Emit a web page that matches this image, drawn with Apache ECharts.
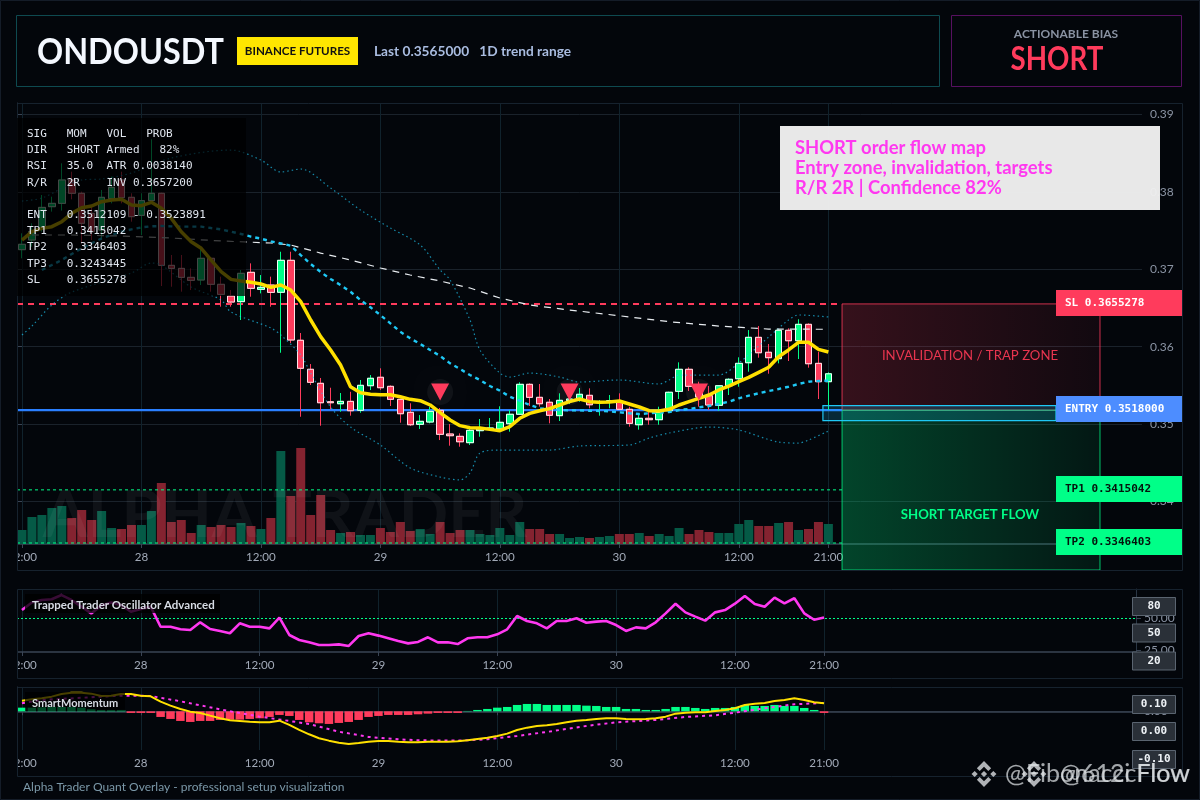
<!DOCTYPE html>
<html><head><meta charset="utf-8"><style>html,body{margin:0;padding:0;background:#02050a}#c{width:1200px;height:800px}</style>
<script src="https://cdn.jsdelivr.net/npm/echarts@6/dist/echarts.min.js"></script></head><body><div id="c"></div>
<script>
const tickLabels={0:'12:00',12:'28',24:'12:00',36:'29',48:'12:00',60:'30',72:'12:00',81:'21:00'};
const slotCount=113;
const categories=[];for(let k=0;k<slotCount;k++)categories.push('h'+k);
const opens=[.37254,.37378,.37529,.37809,.37852,.38154,.37982,.37723,.37508,.37913,
.38154,.37930,.37697,.37887,.37982,.37051,.37012,.36896,.36862,.37142,
.36806,.36655,.36582,.36961,.36741,.36797,.36703,.37116,.36083,.35708,
.35527,.35289,.35263,.35294,.35178,.35496,.35605,.35488,.35320,.35152,
.34997,.35027,.35178,.34872,.34842,.34760,.34915,.34930,.34937,.35005,
.35127,.35514,.35346,.35282,.35109,.35305,.35307,.35372,.35276,.35285,
.35289,.35191,.34992,.35075,.35057,.35173,.35423,.35708,.35479,.35367,
.35243,.35496,.35586,.35793,.36121,.35928,.35845,.36212,.36077,.36289,
.35785,.35548];
const closes=[.37323,.37486,.37800,.37852,.38154,.37982,.37594,.37486,.37930,.38059,
.37925,.37680,.37887,.37982,.37051,.37012,.36896,.36857,.37142,.36806,
.36676,.36577,.36948,.36754,.36767,.36702,.37116,.36087,.35721,.35540,
.35276,.35276,.35294,.35173,.35501,.35592,.35470,.35320,.35134,.34992,
.35036,.35165,.34868,.34850,.34772,.34920,.34937,.34950,.35023,.35127,
.35514,.35346,.35263,.35114,.35307,.35324,.35385,.35250,.35289,.35302,
.35191,.35010,.35075,.35057,.35152,.35411,.35708,.35488,.35350,.35247,
.35496,.35579,.35785,.36121,.35922,.35858,.36212,.36077,.36289,.35780,
.35548,.35650];
const lows=[.37142,.37292,.37486,.37745,.37758,.37904,.37335,.37378,.37378,.37852,
.37852,.37615,.37443,.37852,.36784,.36775,.36711,.36732,.36797,.36711,
.36517,.36517,.36345,.36646,.36689,.36517,.35922,.36048,.35095,.35505,
.34979,.35191,.35160,.35109,.35147,.35440,.35440,.35234,.35018,.34975,
.34937,.35010,.34794,.34721,.34708,.34730,.34837,.34924,.34930,.34902,
.35118,.35234,.35225,.35010,.35040,.35260,.35289,.35204,.35109,.35204,
.35182,.34966,.34928,.34992,.34992,.35160,.35324,.35428,.35225,.35182,
.35173,.35376,.35483,.35677,.35858,.35651,.35785,.35815,.35841,.35729,
.35324,.35182];
const highs=[.37465,.37594,.37960,.37938,.38369,.38261,.38003,.37809,.38025,.38197,
.38261,.37982,.37982,.38679,.37990,.37185,.37185,.37012,.37271,.37150,
.36905,.36732,.36991,.37077,.36926,.36905,.37227,.37227,.36177,.35776,
.35596,.35470,.35402,.35418,.35570,.35634,.35721,.35500,.35330,.35269,
.35117,.35225,.35208,.35001,.34881,.34937,.35066,.35079,.35230,.35182,
.35540,.35527,.35518,.35324,.35398,.35415,.35466,.35462,.35311,.35376,
.35398,.35225,.35117,.35160,.35225,.35419,.35798,.35734,.35548,.35492,
.35505,.35592,.35863,.36215,.36267,.36035,.36225,.36238,.36354,.36302,
.35935,.35669];
const volumes=[14,27,29,36,38,26,34,24,33,16,15,19,19,33,61,22,24,11,19,17,19,17,21,18,15,26,93,48,96,29,49,14,11,12,9,9,16,12,22,13,15,10,22,11,14,14,10,9,16,9,22,15,15,10,10,6,7,6,7,8,10,10,11,8,10,8,16,10,14,12,11,11,20,24,18,18,21,22,14,15,22,20];
const emaFast=[.37378,.37486,.37529,.37551,.37615,.37723,.37796,.37818,.37874,.37895,
.37904,.37831,.37822,.37865,.37788,.37658,.37486,.37357,.37271,.37120,
.36969,.36870,.36849,.36832,.36810,.36767,.36797,.36732,.36582,.36345,
.36130,.35957,.35763,.35484,.35406,.35385,.35380,.35380,.35354,.35320,
.35303,.35247,.35148,.35053,.34980,.34954,.34950,.34932,.34915,.34967,
.35075,.35139,.35173,.35200,.35247,.35290,.35324,.35290,.35281,.35285,
.35298,.35260,.35221,.35173,.35169,.35191,.35247,.35290,.35333,.35376,
.35441,.35492,.35548,.35604,.35669,.35734,.35871,.35958,.36057,.36057,
.35966,.35932];
const emaSlow=[null,null,.36991,.37055,.37120,.37198,.37271,.37336,.37400,.37443,
.37486,.37516,.37542,.37555,.37559,.37555,.37551,.37551,.37551,.37533,
.37516,.37486,.37456,.37422,.37396,.37361,.37335,.37305,.37184,.37068,
.36965,.36875,.36797,.36710,.36603,.36509,.36409,.36302,.36194,.36108,
.36035,.35957,.35880,.35785,.35712,.35634,.35570,.35492,.35432,.35354,
.35302,.35247,.35204,.35191,.35182,.35178,.35178,.35173,.35169,.35165,
.35152,.35140,.35130,.35140,.35147,.35156,.35182,.35195,.35217,.35234,
.35260,.35290,.35333,.35367,.35398,.35428,.35453,.35483,.35518,.35548,
.35557,.35561];
const trendIdx=[1,5,10,15,20,25,27,30,33,36,39,42,45,48,51,55,60,65,70,75,81];
const trendVal=[.37443,.37443,.37430,.37404,.37366,.37340,.37314,.37210,.37120,.37017,.36926,.36849,.36758,.36629,.36539,.36474,.36400,.36323,.36267,.36228,.36225];
const upperIdx=[0,2,6,8,11,15,21,24,26,28,31,34,37,40,42,43,45,46,48,49,51,54,56,60,64,65,66,70,72,75,77,78,81];
const upperVal=[.37882,.37921,.38154,.38167,.38244,.38438,.38541,.38412,.38257,.38296,.38050,.37766,.37534,.37314,.36991,.36862,.36345,.35957,.35660,.35608,.35660,.35608,.35544,.35570,.35518,.35570,.35634,.35634,.35789,.36125,.36345,.36410,.36384];
const lowerIdx=[0,1,3,5,11,13,14,17,20,21,25,26,28,29,31,33,36,39,42,44,45,46,48,53,56,61,63,65,69,72,76,78,79,81];
const lowerVal=[.36151,.36267,.36539,.36706,.36952,.37081,.37055,.36771,.36603,.36448,.36242,.36151,.35893,.35660,.35221,.34962,.34730,.34433,.34316,.34278,.34368,.34626,.34665,.34665,.34717,.34730,.34820,.34885,.34962,.34924,.34768,.34755,.34794,.34910];
const signalIdx=[42,55,68];
const signalVal=[.35415,.35415,.35415];
const slLevel=.3655278, entryLevel=.3518, tp1Level=.3415042, tp2Level=.3346403, entryBoxTop=.3523891, entryBoxBottom=.35045, zoneFloor=.33115;
const oscillator=[56.4,62.3,64.2,64.7,68.0,64.2,59.0,53.8,59.8,62.3,60.3,55.1,57.2,59.0,43.5,43.5,41.5,41.0,46.9,41.7,40.2,38.4,46.1,43.5,43.5,42.2,50.5,37.1,33.2,31.4,29.3,29.3,29.8,28.6,36.3,38.4,36.6,34.5,32.4,30.6,31.7,35.3,31.4,31.4,30.1,34.5,35.3,35.3,37.6,41.5,51.8,47.9,46.1,42.2,47.9,47.9,50,46.6,47.4,47.9,44.8,40.2,43,42.2,46.9,53.8,61.3,54.6,51.3,48.2,54.6,56.4,61.3,67.3,61.1,59,66,61.6,65.5,53.8,48.9,50.7];
const macdLine=[2.13,2.4,2.6,2.93,3.47,3.73,3.73,3.53,3.07,3.13,3.47,3.47,3.13,3,1.93,1.13,.47,-.07,-.33,-.87,-1.4,-1.8,-1.93,-2.07,-2.2,-2.2,-1.87,-2.73,-3.73,-4.6,-5.4,-5.87,-6.27,-6.53,-6.33,-6.07,-5.93,-5.93,-6.07,-6.2,-6.2,-6.07,-6.07,-6.07,-6,-5.8,-5.53,-5.27,-4.93,-4.47,-3.73,-3.27,-2.93,-2.8,-2.53,-2.2,-1.87,-1.73,-1.53,-1.4,-1.4,-1.53,-1.6,-1.53,-1.4,-1.07,-.47,-.27,-.2,-.2,.07,.27,.6,1.27,1.53,1.67,2.07,2.27,2.6,2.27,1.8,1.6];
const macdHist=[.73,.73,.8,.87,.87,.87,.73,.4,.27,.27,.27,-.33,-.33,-.33,-1.13,-1.53,-1.93,-2.13,-1.93,-1.93,-1.73,-1.67,-1.67,-1.53,-1.4,-1.13,-.73,-.93,-1.73,-2.2,-2.4,-2.53,-2.33,-2.13,-1.73,-1.13,-.93,-.73,-.73,-.73,-.6,-.47,-.33,-.33,-.33,.07,.27,.47,.73,.87,1.27,1.47,1.47,1.27,1.27,1.27,1.27,1.13,1.07,.87,.87,.47,.47,.27,.27,.47,.87,.87,.67,.47,.67,.67,.87,1.27,1.07,1.07,1.27,1.07,1.07,.67,.27,-.33];
const macdSigIdx=[0,2,10,11,13,16,21,24,27,29,32,35,38,40,44,47,50,53,57,60,64,67,70,72,75,78,81];
const macdSigVal=[1.6,2.27,3.13,3.13,3.07,2,0,-1.07,-1.93,-2.53,-4.07,-5.13,-5.6,-5.8,-5.87,-5.6,-4.93,-4.13,-2.93,-2.2,-1.73,-1.13,-.8,-.27,.6,1.4,1.67];
const priceTicks=[.34,.35,.36,.37,.38,.39];
const oscTicks=[25,50];
const macdTicks=[0];
const infoLines=['SIG   MOM   VOL   PROB','DIR   SHORT Armed   82%','RSI   35.0  ATR 0.0038140','R/R   2R    INV 0.3657200','ENT   0.3512109 - 0.3523891','TP1   0.3415042','TP2   0.3346403','TP3   0.3243445','SL    0.3655278'];

const UI='Lato,"Noto Sans",sans-serif';
const UIF='Lato,"Noto Sans",sans-serif';
const MONO='"DejaVu Sans Mono",monospace';
const G='#00ff88',R='#ff3b5c',Y='#ffe000',C='#1fc8f5',M='#ff38f0';
const isTick=i=>tickLabels[i]!==undefined;
const pairs=(a,b)=>a.map((v,k)=>[v+0.5,b[k]]);
function xCat(grid,sl){return {type:'category',gridIndex:grid,data:categories,boundaryGap:true,
  axisLine:{show:true,lineStyle:{color:'#3a4454',width:1.5}},
  axisTick:{show:true,alignWithLabel:true,interval:isTick,length:4,lineStyle:{color:'#3a4454'}},
  axisLabel:{show:true,interval:isTick,hideOverlap:false,formatter:(v,i)=>tickLabels[i]||'',color:'#a2aab8',fontFamily:UIF,fontSize:11.6,margin:7},
  splitLine:{show:true,alignWithLabel:true,interval:isTick,lineStyle:{color:'#10222c',width:1}}};}
function xVal(grid){return {type:'value',gridIndex:grid,min:0,max:slotCount,show:false,splitLine:{show:false}};}
function yVal(grid,min,max,ticks,fmt,extra){return Object.assign({type:'value',gridIndex:grid,position:'right',min,max,scale:true,
  axisLine:{show:true,lineStyle:{color:'#2a3644'}},
  axisTick:{show:true,length:5,customValues:ticks,lineStyle:{color:'#3a4454'}},
  axisLabel:{show:true,customValues:ticks,formatter:v=>(+v).toFixed(fmt),color:'#8a93a3',fontFamily:UIF,fontSize:12,margin:8},
  splitLine:{show:true,lineStyle:{color:'#1a222b'}}},extra||{});}
const line=(name,xi,yi,data,color,width,type,z,extra)=>Object.assign({name,type:'line',xAxisIndex:xi,yAxisIndex:yi,data,symbol:'none',silent:true,z,clip:true,
  lineStyle:{color,width,type}},extra||{});
const rectSeries=(name,x0,x1,top,bot,fill,stroke,z,lw)=>({name,type:'custom',xAxisIndex:3,yAxisIndex:0,clip:false,silent:true,z,data:[[x0,top,x1,bot]],
  renderItem:(p,api)=>{const a=api.coord([api.value(0),api.value(1)]),b=api.coord([api.value(2),api.value(3)]);
    return {type:'rect',shape:{x:a[0],y:a[1],width:b[0]-a[0],height:b[1]-a[1]},style:{fill,stroke,lineWidth:lw||1}};},
  encode:{x:[0,2],y:[1,3]}});
const grad=(c0,c1)=>new echarts.graphic.LinearGradient(0,0,1,0,[{offset:0,color:c0},{offset:1,color:c1}]);
const zoneL=82.87,zoneR=108.78,boxL=80.95,boxR=104.36;

const option={animation:false,backgroundColor:'#03060b',
 grid:[{left:17,top:103,width:1125,height:441},{left:17,top:589,width:1119,height:63},{left:17,top:687,width:1119,height:63}],
 xAxis:[xCat(0),xCat(1),xCat(2),xVal(0),xVal(2)],
 yAxis:[yVal(0,.33451,.391486,priceTicks,2),
  {type:'value',gridIndex:0,min:0,max:441,show:false,splitLine:{show:false}},
  yVal(1,23.92,72.68,oscTicks,2,{splitLine:{show:false}}),
  yVal(2,-7.74,4.86,macdTicks,2)],
 series:[
  {name:'Volume',type:'bar',xAxisIndex:0,yAxisIndex:1,data:volumes,barWidth:9,z:1,silent:true,
   itemStyle:{color:p=>closes[p.dataIndex]>=opens[p.dataIndex]?'#055a46':'#842330'}},
  rectSeries('Trap zone',zoneL,zoneR,slLevel,entryLevel,grad('rgba(255,59,92,.2)','rgba(255,59,92,.06)'),'rgba(255,59,92,.8)',1),
  rectSeries('Target zone',zoneL,zoneR,entryLevel,zoneFloor,grad('rgba(0,255,136,.25)','rgba(0,255,136,.07)'),'rgba(0,255,136,.75)',1),
  line('SL',3,0,[[0,slLevel],[zoneL,slLevel]],R,2,[6,5],2),
  line('Entry',3,0,[[0,entryLevel],[zoneL,entryLevel]],'#2a7fff',2.4,'solid',2),
  line('TP1',3,0,[[0,tp1Level],[zoneL,tp1Level]],G,1,[3,3],2),
  line('TP2',3,0,[[0,tp2Level],[zoneL,tp2Level]],G,1,[3,3],2),
  {name:'Wicks',type:'candlestick',xAxisIndex:0,yAxisIndex:0,z:3,silent:true,barWidth:7,data:opens.map((o,i)=>[o,closes[i],lows[i],highs[i]]),
   itemStyle:{color:G,color0:R,borderColor:G,borderColor0:R,borderWidth:1}},
  {name:'Bodies',type:'candlestick',xAxisIndex:0,yAxisIndex:0,z:3,silent:true,barWidth:7,data:opens.map((o,i)=>[o,closes[i],Math.min(o,closes[i]),Math.max(o,closes[i])]),
   itemStyle:{color:G,color0:R,borderColor:'#f4fff9',borderColor0:'#ffe3e8',borderWidth:1}},
  line('Upper band',3,0,pairs(upperIdx,upperVal),'rgba(31,200,245,.68)',1.2,[1.5,3],4,{smooth:.3}),
  line('Lower band',3,0,pairs(lowerIdx,lowerVal),'rgba(31,200,245,.68)',1.2,[1.5,3],4,{smooth:.3}),
  line('Trend',3,0,pairs(trendIdx,trendVal),'#e8ecf0',1.2,[7,6],4),
  line('Slow',0,0,emaSlow,C,2.4,[4,4],4),
  line('Fast',0,0,emaFast,Y,3.5,'solid',5,{connectNulls:true}),
  {name:'Signal glow',type:'scatter',xAxisIndex:3,yAxisIndex:0,data:pairs(signalIdx,signalVal),symbol:'circle',symbolSize:26,z:5,silent:true,
   itemStyle:{color:'rgba(255,255,255,.05)',opacity:1,shadowBlur:12,shadowColor:'rgba(255,255,255,.08)'}},
  {name:'Signals',type:'scatter',xAxisIndex:3,yAxisIndex:0,data:pairs(signalIdx,signalVal),symbol:'triangle',symbolRotate:180,symbolSize:[18,17],z:6,silent:true,
   itemStyle:{color:R,opacity:1}},
  rectSeries('Entry zone',boxL,boxR,entryBoxTop,entryBoxBottom,'rgba(25,201,255,.18)',C,7,1.2),
  line('Oscillator',1,2,oscillator,M,2.6,'solid',4,{markLine:{silent:true,symbol:'none',z:3,animation:false,label:{show:false},lineStyle:{color:G,width:1,type:[2,2]},data:[{yAxis:50}]}}),
  {name:'Hist',type:'bar',xAxisIndex:2,yAxisIndex:3,data:macdHist,barWidth:8.5,z:2,silent:true,itemStyle:{color:p=>p.value>=0?G:R}},
  line('MACD',2,3,macdLine,Y,2,'solid',4),
  line('MACD signal',4,3,pairs(macdSigIdx,macdSigVal),M,2,[3,4],3)
 ],
 graphic:{elements:[]}};

const E=option.graphic.elements;
const T=(text,x,y,font,fill,align,z,extra,scaleX)=>E.push({type:'text',z:z||60,silent:true,x,y,scaleX:scaleX||1,style:Object.assign({text,x:0,y:0,font,fill,align:align||'left',verticalAlign:'middle',textAlign:align||'left',textVerticalAlign:'middle'},extra||{})});
const B=(x,y,w,h,fill,stroke,z,lw)=>E.push({type:'rect',z:z||60,silent:true,shape:{x,y,width:w,height:h},style:{fill:fill||'transparent',stroke:stroke||'transparent',lineWidth:lw||1}});
B(.5,.5,1199,799,null,'#141c28',50);
B(16.5,15.5,923,71,'#03060b','#0e4a50',40);
B(951.5,15.5,230,71,'#03060b','#571060',40);
B(1,103,16,470,'#03060b',null,45);B(1,589,16,92,'#03060b',null,45);B(1,687,16,92,'#03060b',null,45);
B(17.5,103.5,1165,467,null,'#16222e',46);
B(17.5,589.5,1165,89,null,'#16222e',46);
B(17.5,687.5,1165,89,null,'#16222e',46);
T('ONDOUSDT',37,52,'bold 37px '+UI,'#f4f8ff','left',61,{shadowBlur:14,shadowColor:'rgba(40,220,230,.35)'},.875);
B(237,37,121,28,'#ffe600',null,61);
T('BINANCE FUTURES',297.5,51,'bold 11.6px '+UI,'#111','center',62);
T('Last 0.3565000   1D trend range',374,52,'bold 13.7px '+UI,'#a9bce0','left',61);
T('ACTIONABLE BIAS',1066,34,'bold 12px '+UI,'#8a93a3','center',61);
T('SHORT',1057,59,'bold 33px '+UI,R,'center',61,{shadowBlur:12,shadowColor:'rgba(255,59,92,.5)'},.84);
B(17,118,229,178,'rgba(0,0,0,.72)',null,55);
const infoY=[134,150,166,183,215,231,247,264,280];
infoLines.forEach((s,k)=>T(s,27,infoY[k],'11px '+MONO,'#dfe5ee','left',56));
B(780,126,380,84,'rgba(240,240,240,.97)',null,57);
['SHORT order flow map','Entry zone, invalidation, targets','R/R 2R | Confidence 82%'].forEach((s,k)=>T(s,795,148+k*20,'bold 18.4px '+UI,M,'left',58));
T('ALPHA TRADER',285,516,'bold 65px '+UI,'rgba(255,255,255,.05)','center',30);
T('INVALIDATION / TRAP ZONE',970,356,'13.2px '+UI,'#e8354f','center',40);
T('SHORT TARGET FLOW',970,515,'bold 13.2px '+UI,G,'center',40);
[['SL 0.3655278',290,R,'#fff'],['ENTRY 0.3518000',396,'#4d8dff','#fff'],['TP1 0.3415042',476,G,'#04130c'],['TP2 0.3346403',529,G,'#04130c']].forEach(a=>{
 B(1056,a[1],126,26,a[2],null,48);T(a[0],1065,a[1]+13,'bold 11px '+MONO,a[3],'left',49);});
[['80',606.5],['50',633],['20',661],['0.10',704.5],['0.00',731.5],['-0.10',759.5]].forEach(a=>{
 B(1132.5,a[1]-9,43,18,'#2a3038','#5a6470',48);T(a[0],1154,a[1],'bold 11px '+MONO,'#eef2f6','center',49);});
B(25,594,195,19,'rgba(0,0,0,.78)',null,47);
T('Trapped Trader Oscillator Advanced',32,605,'bold 11.5px '+UI,'#d6dbe3','left',49);
B(25,692,100,19,'rgba(0,0,0,.72)',null,47);
T('SmartMomentum',32,703,'bold 11px '+UI,'#d6dbe3','left',49);
T('Alpha Trader Quant Overlay - professional setup visualization',23,787,'12px '+UI,'#7b98a8','left',49);
function logo(cx,cy,r,col){
 const P=(pts)=>E.push({type:'polygon',z:70,silent:true,shape:{points:pts},style:{fill:col}});
 const d=(x,y,s)=>P([[x,y-s],[x+s,y],[x,y+s],[x-s,y]]);
 d(cx,cy,r*.24);d(cx-r*.72,cy,r*.24);d(cx+r*.72,cy,r*.24);
 P([[cx,cy-r],[cx+r*.55,cy-r*.45],[cx+r*.33,cy-r*.23],[cx,cy-r*.56],[cx-r*.33,cy-r*.23],[cx-r*.55,cy-r*.45]]);
 P([[cx,cy+r],[cx+r*.55,cy+r*.45],[cx+r*.33,cy+r*.23],[cx,cy+r*.56],[cx-r*.33,cy+r*.23],[cx-r*.55,cy+r*.45]]);
}
logo(984,774,13,'rgba(225,228,232,.78)');logo(1034,774,13,'rgba(225,228,232,.78)');
T('@Fibonacci Flow',1005,774,'25px '+UIF,'rgba(225,228,232,.72)','left',70);
T('@612cFlow',1060,774,'25px '+UIF,'rgba(225,228,232,.72)','left',70);

const chart=echarts.init(document.getElementById('c'),null,{renderer:'canvas',width:1200,height:800});
chart.setOption(option);
</script></body></html>
